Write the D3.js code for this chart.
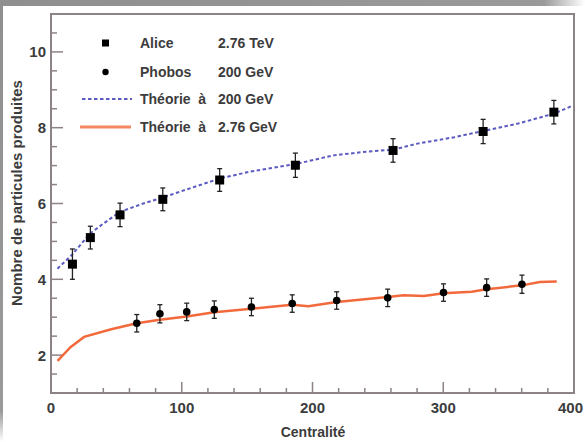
<!DOCTYPE html>
<html><head><meta charset="utf-8">
<script src="https://cdn.jsdelivr.net/npm/d3@7"></script>
<style>
html,body{margin:0;padding:0;background:#fff;}
svg{display:block;}
text{font-family:"Liberation Sans",Arial,Helvetica,sans-serif;}
</style></head>
<body>
<svg id="chart" width="585" height="442"></svg>
<script>
// ---- data ----
const xTicks = [0, 100, 200, 300, 400];
const yTicks = [2, 4, 6, 8, 10];
const aliceX = [16.4, 30.1, 52.8, 85.5, 129, 186.9, 261.6, 330.5, 384.6];
const aliceY = [4.40, 5.10, 5.70, 6.11, 6.62, 7.01, 7.40, 7.90, 8.41];
const aliceErr = [0.40, 0.30, 0.31, 0.30, 0.30, 0.32, 0.31, 0.32, 0.31];
const phobosX = [65.6, 83.3, 103.8, 124.9, 153.3, 184.5, 218.5, 257.5, 300.2, 333.2, 360.2];
const phobosY = [2.84, 3.09, 3.14, 3.20, 3.27, 3.36, 3.44, 3.51, 3.65, 3.78, 3.87];
const phobosErr = [0.23, 0.24, 0.23, 0.23, 0.23, 0.23, 0.23, 0.23, 0.23, 0.23, 0.24];
const theo200X = [4.9, 15.9, 29.9, 40.1, 52.8, 70.6, 85.5, 106.3, 129, 152.2, 186.9, 216.1, 241.7, 261.6, 280.2, 308.5, 330.5, 357.2, 384.6, 398.2];
const theo200Y = [4.28, 4.64, 5.21, 5.47, 5.78, 6.00, 6.16, 6.40, 6.66, 6.84, 7.04, 7.27, 7.37, 7.42, 7.58, 7.75, 7.91, 8.11, 8.37, 8.57];
const theo276X = [5.0, 14.9, 25.3, 46.1, 65.6, 83.3, 103.8, 124.9, 153.3, 184.5, 196.9, 218.5, 257.5, 269.7, 285.3, 300.2, 321.8, 333.2, 360.2, 373.8, 386.8];
const theo276Y = [1.85, 2.21, 2.48, 2.68, 2.84, 2.93, 3.02, 3.13, 3.22, 3.33, 3.29, 3.40, 3.53, 3.58, 3.56, 3.63, 3.67, 3.74, 3.84, 3.93, 3.94];
const legendNames = ["Alice", "Phobos", "Théorie  à", "Théorie  à"];
const legendEnergies = ["2.76 TeV", "200 GeV", "200 GeV", "2.76 GeV"];
const xTitle = "Centralité";
const yTitle = "Nombre de particules produites";

// ---- layout ----
const svg = d3.select("#chart");
const L = 51, R = 574, T = 14, B = 393;
const x = d3.scaleLinear().domain([0, 400]).range([L, R]);
const y = d3.scaleLinear().domain([1, 11]).range([B, T]);
const frameCol = "#8d8386";
const textCol = "#3c3c3c";
const blue = "#5b5bc2";
const orange = "#f26a3c";

// decorative photo frame
const defs = svg.append("defs");
const gTop = defs.append("linearGradient").attr("id", "gtop").attr("x1", 0).attr("x2", 1).attr("y1", 0).attr("y2", 0);
gTop.append("stop").attr("offset", "0").attr("stop-color", "#8f8f8f");
gTop.append("stop").attr("offset", "0.93").attr("stop-color", "#9a9a9a");
gTop.append("stop").attr("offset", "1").attr("stop-color", "#ffffff");
const gLeft = defs.append("linearGradient").attr("id", "gleft").attr("x1", 0).attr("x2", 0).attr("y1", 0).attr("y2", 1);
gLeft.append("stop").attr("offset", "0").attr("stop-color", "#8f8f8f");
gLeft.append("stop").attr("offset", "0.93").attr("stop-color", "#9a9a9a");
gLeft.append("stop").attr("offset", "1").attr("stop-color", "#ffffff");
svg.append("rect").attr("x", 0).attr("y", 0).attr("width", 585).attr("height", 6).attr("fill", "url(#gtop)");
svg.append("rect").attr("x", 0).attr("y", 0).attr("width", 3).attr("height", 442).attr("fill", "url(#gleft)");

// ticks (inside)
const g = svg.append("g");
const xMinor = d3.range(20, 400, 20).filter(v => v % 100 !== 0);
const yMinor = d3.range(1.5, 11, 0.5).filter(v => v % 2 !== 0);
g.selectAll(".xmaj").data(xTicks.filter(v => v > 0 && v < 400)).join("line")
  .attr("x1", d => x(d)).attr("x2", d => x(d)).attr("y1", B).attr("y2", B - 11)
  .attr("stroke", frameCol).attr("stroke-width", 1.5);
g.selectAll(".xmin").data(xMinor).join("line")
  .attr("x1", d => x(d)).attr("x2", d => x(d)).attr("y1", B).attr("y2", B - 5)
  .attr("stroke", frameCol).attr("stroke-width", 1.5);
g.selectAll(".ymaj").data(yTicks).join("line")
  .attr("x1", L).attr("x2", L + 12).attr("y1", d => y(d)).attr("y2", d => y(d))
  .attr("stroke", frameCol).attr("stroke-width", 1.5);
g.selectAll(".ymin").data(yMinor).join("line")
  .attr("x1", L).attr("x2", L + 6).attr("y1", d => y(d)).attr("y2", d => y(d))
  .attr("stroke", frameCol).attr("stroke-width", 1.5);

// frame
svg.append("rect").attr("x", L).attr("y", T).attr("width", R - L).attr("height", B - T)
  .attr("fill", "none").attr("stroke", frameCol).attr("stroke-width", 2);

// tick labels
svg.selectAll(".xl").data(xTicks).join("text")
  .attr("x", d => d === 400 ? 583 : x(d)).attr("y", 413)
  .attr("text-anchor", d => d === 400 ? "end" : "middle")
  .attr("font-size", 15).attr("font-weight", "bold").attr("fill", textCol).text(d => d);
svg.selectAll(".yl").data(yTicks).join("text")
  .attr("x", 46).attr("y", d => y(d) + 5.5).attr("text-anchor", "end")
  .attr("font-size", 15).attr("font-weight", "bold").attr("fill", textCol).text(d => d);

// axis titles
svg.append("text").attr("x", 313).attr("y", 437).attr("text-anchor", "middle")
  .attr("font-size", 14).attr("font-weight", "bold").attr("fill", textCol).text(xTitle);
svg.append("text").attr("transform", "translate(22,193) rotate(-90)").attr("text-anchor", "middle")
  .attr("font-size", 15).attr("font-weight", "bold").attr("fill", textCol).text(yTitle);

// theory curves
const line = d3.line().x(d => x(d[0])).y(d => y(d[1])).curve(d3.curveLinear);
svg.append("path").datum(d3.zip(theo200X, theo200Y)).attr("d", line)
  .attr("fill", "none").attr("stroke", blue).attr("stroke-width", 2).attr("stroke-dasharray", "3.5,2.5");
svg.append("path").datum(d3.zip(theo276X, theo276Y)).attr("d", line)
  .attr("fill", "none").attr("stroke", orange).attr("stroke-width", 2.5);

// error bars + markers
function errBars(xs, ys, es) {
  const gg = svg.append("g").attr("stroke", "#222").attr("stroke-width", 1.3);
  xs.forEach((xv, i) => {
    const cx = x(xv), y0 = y(ys[i] - es[i]), y1 = y(ys[i] + es[i]);
    gg.append("line").attr("x1", cx).attr("x2", cx).attr("y1", y0).attr("y2", y1);
    gg.append("line").attr("x1", cx - 2.5).attr("x2", cx + 2.5).attr("y1", y0).attr("y2", y0);
    gg.append("line").attr("x1", cx - 2.5).attr("x2", cx + 2.5).attr("y1", y1).attr("y2", y1);
  });
}
errBars(aliceX, aliceY, aliceErr);
errBars(phobosX, phobosY, phobosErr);
svg.append("g").selectAll("rect").data(d3.zip(aliceX, aliceY)).join("rect")
  .attr("x", d => x(d[0]) - 4.5).attr("y", d => y(d[1]) - 4.5).attr("width", 9).attr("height", 9).attr("fill", "#000");
svg.append("g").selectAll("circle").data(d3.zip(phobosX, phobosY)).join("circle")
  .attr("cx", d => x(d[0])).attr("cy", d => y(d[1])).attr("r", 3.8).attr("fill", "#000");

// legend
const rowsY = [43, 72, 99, 127];
svg.append("rect").attr("x", 102).attr("y", rowsY[0] - 3.5).attr("width", 7).attr("height", 7).attr("fill", "#000");
svg.append("circle").attr("cx", 105.5).attr("cy", rowsY[1]).attr("r", 3.2).attr("fill", "#000");
svg.append("line").attr("x1", 82).attr("x2", 132).attr("y1", rowsY[2]).attr("y2", rowsY[2])
  .attr("stroke", blue).attr("stroke-width", 2).attr("stroke-dasharray", "3.5,2.5");
svg.append("line").attr("x1", 80).attr("x2", 131).attr("y1", rowsY[3]).attr("y2", rowsY[3])
  .attr("stroke", orange).attr("stroke-width", 3).attr("opacity", 0.8);
rowsY.forEach((ry, i) => {
  svg.append("text").attr("x", 140).attr("y", ry + 5).attr("font-size", 14).attr("font-weight", "bold")
    .attr("fill", textCol).attr("xml:space", "preserve").style("white-space", "pre").text(legendNames[i]);
  svg.append("text").attr("x", 218).attr("y", ry + 5).attr("font-size", 14).attr("font-weight", "bold")
    .attr("fill", textCol).text(legendEnergies[i]);
});
</script>
</body></html>
